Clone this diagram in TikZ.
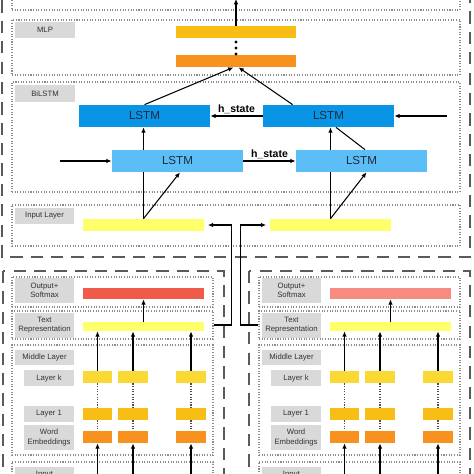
\documentclass[tikz,border=0pt]{standalone}
\usepackage{fontspec}
\setmainfont{Liberation Sans}
\usetikzlibrary{arrows.meta,positioning,fit}
\definecolor{dashgray}{HTML}{5A5A5A}
\definecolor{dotgray}{HTML}{8C8C8C}
\definecolor{taggray}{HTML}{D9D9D9}
\definecolor{amber}{HTML}{F9BE15}
\definecolor{deeporange}{HTML}{F7921E}
\definecolor{lightgold}{HTML}{FAD934}
\definecolor{paleyellow}{HTML}{FFFF6A}
\definecolor{softred}{HTML}{F05A48}
\definecolor{salmon}{HTML}{F88B80}
\definecolor{lstmdark}{HTML}{0A94E6}
\definecolor{lstmlight}{HTML}{5BBEF6}
\definecolor{lstmtext}{HTML}{1B2A3A}
\tikzset{
  bigbox/.style={draw=dashgray,line width=1.4pt,dash pattern=on 7pt off 4.6pt},
  layerbox/.style={draw=dotgray,line width=0.6pt,dash pattern=on 0.6pt off 0.9pt,inner sep=0pt},
  tag/.style={fill=taggray,inner sep=0pt},
  tagtext/.style={inner sep=0pt,align=center,text=black!80,font=\fontsize{4.4}{5.2}\selectfont},
  bar/.style={inner sep=0pt},
  lstm/.style={inner sep=0pt},
  lstmtext/.style={inner sep=0pt,text=lstmtext,font=\fontsize{6.6}{7}\selectfont},
  edge/.style={-{Latex[length=3pt,width=2.6pt]},line width=0.6pt},
  link/.style={line width=0.6pt},
  chain/.style={draw=black!70,line width=0.7pt,dash pattern=on 0.7pt off 0.8pt},
  hlabel/.style={inner sep=1pt,font=\bfseries\fontsize{6}{7}\selectfont}
}

\begin{document}
\begin{tikzpicture}[x=0.02cm,y=-0.02cm]
\useasboundingbox (0,0) rectangle (474,474);
\clip (0,0) rectangle (474,474);
% outer dashed regions
\draw[bigbox] (2,-20) rectangle (470,257);
\draw[bigbox] (3,271) rectangle (224,520);
\draw[bigbox] (249,271) rectangle (470,520);
% upper part: MLP, BiLSTM, input layer
\node[layerbox,fit={(12,-20) (460,10)}] (frmtop) {};
\node[layerbox,fit={(12,20) (460,75)}] (frmmlp) {};
\node[layerbox,fit={(12,82) (460,192)}] (frmbilstm) {};
\node[layerbox,fit={(12,205) (460,246)}] (frminput) {};
\node[tag,fit={(15,22) (75,38)},label={[tagtext]center:MLP}] (tagmlp) {};
\node[tag,fit={(15,85) (75,102)},label={[tagtext]center:BiLSTM}] (tagbilstm) {};
\node[tag,fit={(15,208) (74,224)},label={[tagtext]center:Input Layer}] (taginput) {};
\node[bar,fill=amber,fit={(176,26) (296,38)}] (mlptop) {};
\node[bar,fill=deeporange,fit={(176,55) (296,67)}] (mlpbot) {};
\fill (236,42) circle (0.9pt) (236,48) circle (0.9pt) (236,54) circle (0.9pt);
\node[lstm,fill=lstmdark,fit={(79,105) (210,127)},label={[lstmtext]center:LSTM}] (lstmbl) {};
\node[lstm,fill=lstmdark,fit={(263,105) (394,127)},label={[lstmtext]center:LSTM}] (lstmbr) {};
\node[lstm,fill=lstmlight,fit={(112,150) (243,172)},label={[lstmtext]center:LSTM}] (lstmfl) {};
\node[lstm,fill=lstmlight,fit={(296,150) (427,172)},label={[lstmtext]center:LSTM}] (lstmfr) {};
\node[bar,fill=paleyellow,fit={(83,219) (204,231)}] (inl) {};
\node[bar,fill=paleyellow,fit={(270,219) (391,231)}] (inr) {};
\coordinate (mlpout) at (236,-1);
\coordinate (bin) at (447,116);
\coordinate (fin) at (60,161);
% lower left part
\node[layerbox,fit={(12,277) (213,307)}] (frmoutl) {};
\node[layerbox,fit={(12,311) (213,339)}] (frmrepl) {};
\node[layerbox,fit={(12,345) (213,455)}] (frmmidl) {};
\node[layerbox,fit={(12,462) (213,520)}] (frminl) {};
\node[tag,fit={(15,278) (74,303)},label={[tagtext]center:Output+\\Softmax}] (tagoutl) {};
\node[tag,fit={(15,313) (74,338)},label={[tagtext]center:Text\\Representation}] (tagrepl) {};
\node[tag,fit={(15,350) (74,365)},label={[tagtext]center:Middle Layer}] (tagmidl) {};
\node[tag,fit={(24,370) (74,386)},label={[tagtext]center:Layer k}] (tagkl) {};
\node[tag,fit={(24,406) (74,422)},label={[tagtext]center:Layer 1}] (tagonel) {};
\node[tag,fit={(24,425) (74,450)},label={[tagtext]center:Word\\Embeddings}] (tagembl) {};
\node[tag,fit={(15,467) (74,483)},label={[tagtext]center:Input}] (taginl) {};
\node[bar,fill=softred,fit={(83,288) (204,299)}] (outl) {};
\node[bar,fill=paleyellow,fit={(83,322) (204,331)}] (repl) {};
\node[bar,fill=lightgold,fit={(83,371) (112,383)}] (kl1) {};
\node[bar,fill=lightgold,fit={(118,371) (148,383)}] (kl2) {};
\node[bar,fill=lightgold,fit={(176,371) (206,383)}] (kl3) {};
\node[bar,fill=amber,fit={(83,408) (112,420)}] (ol1) {};
\node[bar,fill=amber,fit={(118,408) (148,420)}] (ol2) {};
\node[bar,fill=amber,fit={(176,408) (206,420)}] (ol3) {};
\node[bar,fill=deeporange,fit={(83,431) (112,443)}] (el1) {};
\node[bar,fill=deeporange,fit={(118,431) (148,443)}] (el2) {};
\node[bar,fill=deeporange,fit={(176,431) (206,443)}] (el3) {};
% lower right part
\node[layerbox,fit={(259,277) (460,307)}] (frmoutr) {};
\node[layerbox,fit={(259,311) (460,339)}] (frmrepr) {};
\node[layerbox,fit={(259,345) (460,455)}] (frmmidr) {};
\node[layerbox,fit={(259,462) (460,520)}] (frminr) {};
\node[tag,fit={(262,278) (321,303)},label={[tagtext]center:Output+\\Softmax}] (tagoutr) {};
\node[tag,fit={(262,313) (321,338)},label={[tagtext]center:Text\\Representation}] (tagrepr) {};
\node[tag,fit={(262,350) (321,365)},label={[tagtext]center:Middle Layer}] (tagmidr) {};
\node[tag,fit={(271,370) (321,386)},label={[tagtext]center:Layer k}] (tagkr) {};
\node[tag,fit={(271,406) (321,422)},label={[tagtext]center:Layer 1}] (tagoner) {};
\node[tag,fit={(271,425) (321,450)},label={[tagtext]center:Word\\Embeddings}] (tagembr) {};
\node[tag,fit={(262,467) (321,483)},label={[tagtext]center:Input}] (taginr) {};
\node[bar,fill=salmon,fit={(330,288) (451,299)}] (outr) {};
\node[bar,fill=paleyellow,fit={(330,322) (451,331)}] (repr) {};
\node[bar,fill=lightgold,fit={(330,371) (359,383)}] (kr1) {};
\node[bar,fill=lightgold,fit={(365,371) (395,383)}] (kr2) {};
\node[bar,fill=lightgold,fit={(423,371) (453,383)}] (kr3) {};
\node[bar,fill=amber,fit={(330,408) (359,420)}] (or1) {};
\node[bar,fill=amber,fit={(365,408) (395,420)}] (or2) {};
\node[bar,fill=amber,fit={(423,408) (453,420)}] (or3) {};
\node[bar,fill=deeporange,fit={(330,431) (359,443)}] (er1) {};
\node[bar,fill=deeporange,fit={(365,431) (395,443)}] (er2) {};
\node[bar,fill=deeporange,fit={(423,431) (453,443)}] (er3) {};
\coordinate (wbot) at (0,480);
% connectors, upper part
\draw[edge] (mlptop) -- (mlpout);
\draw[edge] (lstmbl.north) -- ([xshift=-0.05cm]mlpbot.south);
\draw[edge] ([xshift=0.6cm]lstmbr.north west) -- ([xshift=0.05cm]mlpbot.south);
\draw[edge] (lstmbr) -- node[hlabel,above] {h\_state} (lstmbl);
\draw[edge] (lstmfl) -- node[hlabel,above] {h\_state} (lstmfr);
\draw[edge] (bin) -- (lstmbr);
\draw[edge] (fin) -- (lstmfl);
\draw[link] (inl.north) -- (inl.north |- lstmfl.south);
\draw[edge] (inl.north |- lstmfl.north) -- (inl.north |- lstmbl.south);
\draw[edge] (inl.north) -- ([xshift=0.05cm]lstmfl.south);
\draw[link] (inr.north) -- (inr.north |- lstmfr.south);
\draw[edge] (inr.north |- lstmfr.north) -- (inr.north |- lstmbr.south);
\draw[edge] (inr.north) -- ([xshift=0.1cm]lstmfr.south);
\draw[link] ([xshift=0.07cm]lstmfr.north) -- ([xshift=0.15cm]lstmbr.south);
\draw[edge,shorten >=2pt] (frmrepl.east) -- ++(18,0) |- (inl.east);
\draw[edge,shorten >=2pt] (frmrepr.west) -- ++(-18,0) |- (inr.west);
% connectors, lower left
\draw[edge] (repl) -- (outl);
\draw[edge] (kl1) -- (kl1 |- repl.south);
\draw[edge] (kl2) -- (kl2 |- repl.south);
\draw[edge] (kl3) -- (kl3 |- repl.south);
\draw[chain] (kl1) -- (ol1);
\draw[chain] (kl2) -- (ol2);
\draw[chain] (kl3) -- (ol3);
\draw[chain] (ol1) -- (el1);
\draw[chain] (ol2) -- (el2);
\draw[chain] (ol3) -- (el3);
\draw[edge] (el1 |- wbot) -- (el1);
\draw[edge] (el2 |- wbot) -- (el2);
\draw[edge] (el3 |- wbot) -- (el3);
% connectors, lower right
\draw[edge] (repr) -- (outr);
\draw[edge] (kr1) -- (kr1 |- repr.south);
\draw[edge] (kr2) -- (kr2 |- repr.south);
\draw[edge] (kr3) -- (kr3 |- repr.south);
\draw[chain] (kr1) -- (or1);
\draw[chain] (kr2) -- (or2);
\draw[chain] (kr3) -- (or3);
\draw[chain] (or1) -- (er1);
\draw[chain] (or2) -- (er2);
\draw[chain] (or3) -- (er3);
\draw[edge] (er1 |- wbot) -- (er1);
\draw[edge] (er2 |- wbot) -- (er2);
\draw[edge] (er3 |- wbot) -- (er3);
\end{tikzpicture}
\end{document}
